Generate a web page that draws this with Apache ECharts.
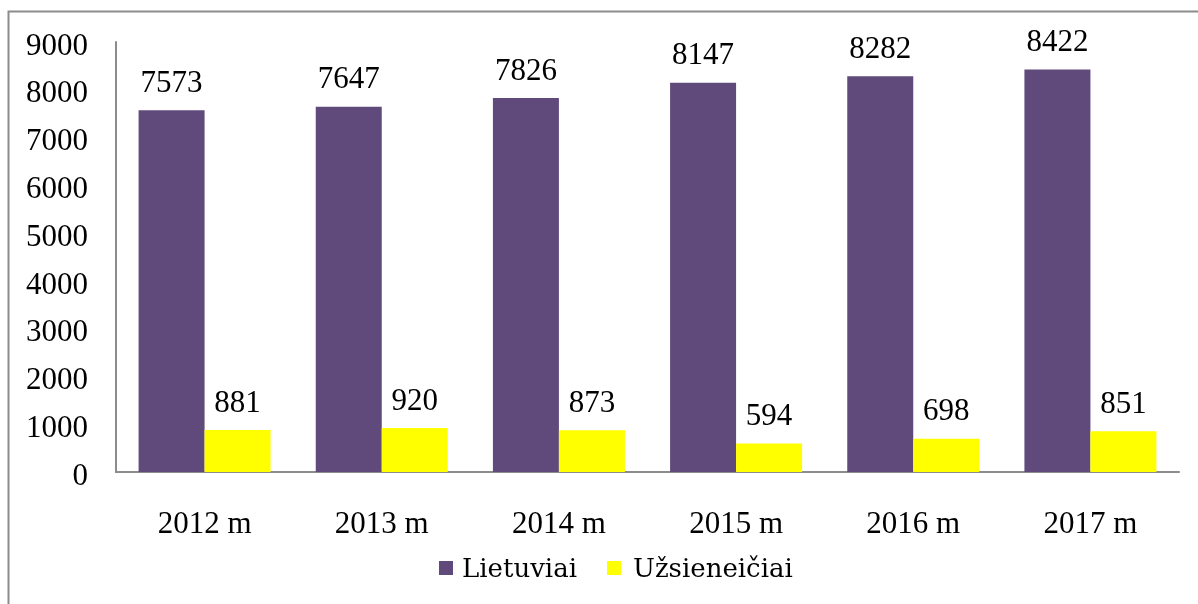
<!DOCTYPE html>
<html>
<head>
<meta charset="utf-8">
<script src="https://cdn.jsdelivr.net/npm/echarts@6/dist/echarts.min.js"></script>
<style>
  html, body { margin: 0; padding: 0; background: #fff; }
  #chart { width: 1198px; height: 604px; }
</style>
</head>
<body>
<div id="chart"></div>
<script>
// data
var years = ["2012 m", "2013 m", "2014 m", "2015 m", "2016 m", "2017 m"];
var lietuviai = [7573, 7647, 7826, 8147, 8282, 8422];
var uzsieneiciai = [881, 920, 873, 594, 698, 851];
var seriesNames = ["Lietuviai", "Užsieneičiai"];
var seriesColors = ["#604a7b", "#ffff00"];

var font = "'Liberation Serif', 'Times New Roman', serif";
var legendFont = "'DejaVu Serif', 'Liberation Serif', serif";

var chart = echarts.init(document.getElementById("chart"));

// legend drawn by hand so it gets a serif font
var legendX = [439, 607];
var legendItems = [];
seriesNames.forEach(function (name, i) {
  legendItems.push({
    type: "rect",
    shape: { x: legendX[i], y: 561, width: 14, height: 14 },
    style: { fill: seriesColors[i] },
  });
  legendItems.push({
    type: "text",
    x: legendX[i] + 23 + (i === 1 ? 3 : 0),
    y: 570,
    style: {
      text: name,
      fontFamily: legendFont,
      fontSize: 26,
      fill: "#000",
      verticalAlign: "middle",
    },
  });
});

var option = {
  animation: false,
  textStyle: { fontFamily: font },
  graphic: [
    {
      // outer frame (top and left edges visible)
      type: "polyline",
      shape: { points: [[8.5, 604], [8.5, 11.5], [1198, 11.5]] },
      style: { stroke: "#8c8c8c", lineWidth: 2, fill: null },
    },
  ].concat(legendItems),
  grid: { left: 116, right: 19, top: 42, bottom: 132 },
  xAxis: {
    type: "category",
    data: years,
    axisLine: { lineStyle: { color: "#8c8c8c", width: 2 } },
    axisTick: { show: false },
    axisLabel: { fontFamily: font, fontSize: 31, color: "#000", margin: 37 },
  },
  yAxis: {
    type: "value",
    min: 0,
    max: 9000,
    interval: 1000,
    axisLine: { show: true, lineStyle: { color: "#8c8c8c", width: 2 } },
    axisTick: { show: false },
    splitLine: { show: false },
    axisLabel: {
      fontFamily: font,
      fontSize: 31,
      color: "#000",
      margin: 28,
      verticalAlign: "top",
      lineHeight: 31,
      padding: [-11, 0, 0, 0],
      formatter: function (v) {
        return String(v);
      },
    },
  },
  series: [
    {
      name: seriesNames[0],
      type: "bar",
      data: lietuviai,
      barWidth: 66,
      barGap: "0%",
      itemStyle: { color: seriesColors[0] },
      label: {
        show: true,
        position: "top",
        distance: 11,
        fontFamily: font,
        fontSize: 31,
        color: "#000",
      },
    },
    {
      name: seriesNames[1],
      type: "bar",
      data: uzsieneiciai,
      barWidth: 66,
      barGap: "0%",
      itemStyle: { color: seriesColors[1] },
      label: {
        show: true,
        position: "top",
        distance: 11,
        fontFamily: font,
        fontSize: 31,
        color: "#000",
      },
    },
  ],
};

chart.setOption(option);
</script>
</body>
</html>
